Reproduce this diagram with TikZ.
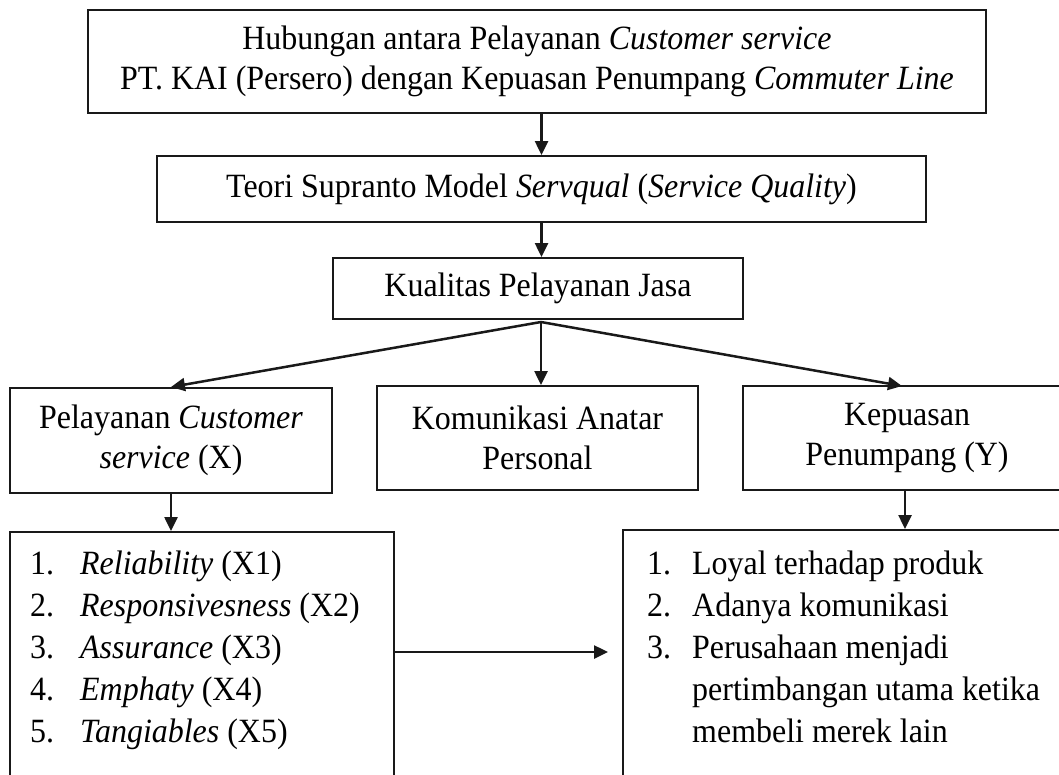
\documentclass[tikz,border=0pt]{standalone}
\usepackage{fontspec}
\setmainfont{Liberation Serif}[FakeStretch=0.94]
\usetikzlibrary{arrows.meta}
\begin{document}
\begin{tikzpicture}[x=1pt,y=-1pt,
  box/.style={draw=black!90, line width=2pt, inner sep=0pt, align=center,
    font=\fontsize{34}{40}\selectfont},
  arr/.style={-{Triangle[length=14pt,width=13pt]}, line width=2.5pt, black!90},
  itm/.style={anchor=base west, inner sep=0pt, font=\fontsize{34}{40}\selectfont}]
\useasboundingbox (0,0) rectangle (1059,774);
\clip (0,0) rectangle (1059,774);
\fill[white] (0,0) rectangle (1059,774);

\node[box, line width=2.6pt, minimum width=898pt, minimum height=103pt] (top) at (537,61.5)
  {Hubungan antara Pelayanan \textit{Customer service}\\PT. KAI (Persero) dengan Kepuasan Penumpang \textit{Commuter Line}};
\node[box, minimum width=769pt, minimum height=66pt] (teori) at (541.5,189)
  {Teori Supranto Model \textit{Servqual} (\textit{Service Quality})};
\node[box, minimum width=410pt, minimum height=61pt] (kual) at (538,288.5)
  {Kualitas Pelayanan Jasa};
\node[box, minimum width=322pt, minimum height=105pt] (pel) at (171,440.5)
  {Pelayanan \textit{Customer}\\\textit{service} (X)};
\node[box, minimum width=321pt, minimum height=104pt] (kom) at (537.5,438)
  {Komunikasi Anatar\\Personal};
\node[box, minimum width=328pt, minimum height=104pt] (kep) at (907,438)
  {Kepuasan\\Penumpang (Y)};
\node[box, minimum width=384pt, minimum height=268pt] (llist) at (202,666) {};
\node[box, minimum width=477pt, minimum height=270pt] (rlist) at (861.5,665) {};

% left list
\node[itm] (ln1) at (30,574) {1.};
\node[itm] (lt1) at (80,574) {\textit{Reliability} (X1)};
\node[itm] (ln2) at (30,616) {2.};
\node[itm] (lt2) at (80,616) {\textit{Responsivesness} (X2)};
\node[itm] (ln3) at (30,658) {3.};
\node[itm] (lt3) at (80,658) {\textit{Assurance} (X3)};
\node[itm] (ln4) at (30,700) {4.};
\node[itm] (lt4) at (80,700) {\textit{Emphaty} (X4)};
\node[itm] (ln5) at (30,742) {5.};
\node[itm] (lt5) at (80,742) {\textit{Tangiables} (X5)};

% right list
\node[itm] (rn1) at (647,574) {1.};
\node[itm] (rt1) at (692,574) {Loyal terhadap produk};
\node[itm] (rn2) at (647,616) {2.};
\node[itm] (rt2) at (692,616) {Adanya komunikasi};
\node[itm] (rn3) at (647,658) {3.};
\node[itm] (rt3) at (692,658) {Perusahaan menjadi};
\node[itm] (rt4) at (692,700) {pertimbangan utama ketika};
\node[itm] (rt5) at (692,742) {membeli merek lain};

% connectors
\draw[arr] (teori.north |- top.south) -- (teori.north);
\draw[arr] (teori.south) -- (teori.south |- kual.north);
\coordinate (fan) at (541,322);
\draw[arr] (fan) -- (pel.north);
\draw[arr] (fan) -- (fan |- kom.north);
\coordinate (kepin) at (902,386);
\draw[arr] (fan) -- (kepin);
\draw[arr] (pel.south) -- (pel.south |- llist.north);
\coordinate (kepout) at (905,490);
\draw[arr] (kepout) -- (kepout |- rlist.north);
\coordinate (hy) at (0,652);
\coordinate (htip) at (608,652);
\draw[arr] (llist.east |- hy) -- (htip);
\end{tikzpicture}
\end{document}
